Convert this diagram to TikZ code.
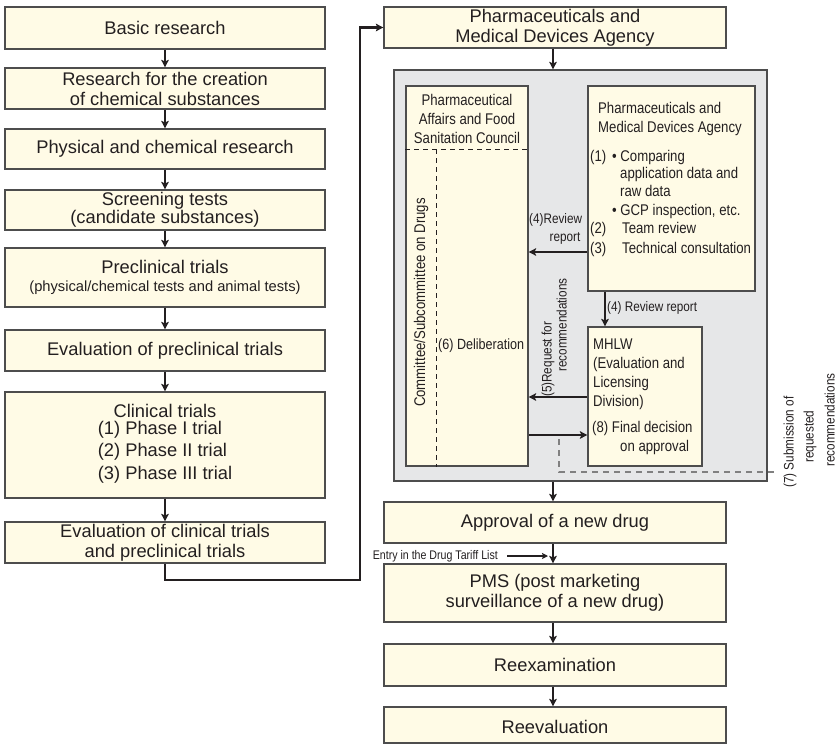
\documentclass[tikz,border=0pt]{standalone}
\usepackage{fontspec}
\setmainfont{Liberation Sans}
\newfontfamily\nar[FakeStretch=0.85]{Liberation Sans}
\usetikzlibrary{arrows.meta,calc}
\definecolor{ink}{HTML}{231F20}
\definecolor{cream}{HTML}{FFFBE6}
\definecolor{panel}{HTML}{E6E7E8}
\definecolor{edge}{HTML}{4D4D4D}
\definecolor{dashgray}{HTML}{808080}
\begin{document}
\begin{tikzpicture}[x=1pt,y=-1pt,text=ink,
  mainbox/.style={draw=edge, line width=1.2pt, fill=cream, inner sep=0pt, align=center,
    font=\fontsize{18.3}{20}\selectfont},
  innerbox/.style={draw=edge, line width=1.2pt, fill=cream, inner sep=0pt},
  arr/.style={-{Stealth[length=7.5pt,width=7.5pt,inset=1.5pt]}, line width=1.8pt, draw=ink},
  arrthin/.style={-{Stealth[length=6pt,width=6pt,inset=1.2pt]}, line width=1.5pt, draw=ink},
  lbl/.style={inner sep=0pt, anchor=west, text height=11pt, text depth=3pt,
    font=\nar\fontsize{15.5}{18.5}\selectfont},
  lblc/.style={inner sep=0pt, align=center, font=\nar\fontsize{15.5}{19}\selectfont},
  small/.style={inner sep=0pt, text height=10pt, text depth=3pt,
    font=\nar\fontsize{13.8}{16}\selectfont},
  tiny/.style={inner sep=0pt, font=\nar\fontsize{12.5}{14}\selectfont}]
\useasboundingbox (0,0) rectangle (838,744);

% ---------------- left column ----------------
\node[mainbox, minimum width=320pt, minimum height=42pt] (b1) at (165,28) {Basic research};
\node[mainbox, minimum width=320pt, minimum height=41pt] (b2) at (165,88.5) {Research for the creation\\of chemical substances};
\node[mainbox, minimum width=320pt, minimum height=40pt] (b3) at (165,149) {Physical and chemical research};
\node[mainbox, minimum width=320pt, minimum height=40pt] (b4) at (165,210) {\raisebox{-3pt}{\begin{tabular}{@{}c@{}}Screening tests\\[-2pt](candidate substances)\end{tabular}}};
\node[mainbox, minimum width=320pt, minimum height=59pt] (b5) at (165,277.5)
  {Preclinical trials\\[-2pt]{\fontsize{14.7}{16}\selectfont (physical/chemical tests and animal tests)}};
\node[mainbox, minimum width=320pt, minimum height=41pt] (b6) at (165,350.5) {Evaluation of preclinical trials};
\node[mainbox, minimum width=320pt, minimum height=106pt,
  font=\fontsize{18.3}{22.5}\selectfont] (b7) at (165,445)
  {Clinical trials\\\begin{tabular}{@{}l@{}}(1) Phase I trial\\(2) Phase II trial\\(3) Phase III trial\end{tabular}};
\node[mainbox, minimum width=320pt, minimum height=41pt] (b8) at (165,542.5) {Evaluation of clinical trials\\and preclinical trials};

\draw[arr] (b1.south) -- (b2.north);
\draw[arr] (b2.south) -- (b3.north);
\draw[arr] (b3.south) -- (b4.north);
\draw[arr] (b4.south) -- (b5.north);
\draw[arr] (b5.south) -- (b6.north);
\draw[arr] (b6.south) -- (b7.north);
\draw[arr] (b7.south) -- (b8.north);

% ---------------- right column ----------------
\node[mainbox, minimum width=342pt, minimum height=41pt] (pmda) at (555,27.5) {Pharmaceuticals and\\Medical Devices Agency};

\coordinate (turn) at (360,580);
\draw[arr, line width=2.2pt] (b8.south) |- (turn) |- (pmda.west);

\node[draw=edge, line width=1.2pt, fill=panel, minimum width=373pt, minimum height=411pt, inner sep=0pt] (panel) at (580.5,275.5) {};
\draw[arr] (553,0 |- pmda.south) -- (553,0 |- panel.north);

% council
\node[innerbox, minimum width=122pt, minimum height=380pt] (council) at (467,276) {};
\node[lblc] (ctitle) at (467,119) {Pharmaceutical\\Affairs and Food\\Sanitation Council};
\draw[ink, line width=1pt, dash pattern=on 5pt off 4pt] (council.west |- 0,149) -- (council.east |- 0,149);
\draw[ink, line width=1pt, dash pattern=on 5pt off 4pt] (436,149) -- (436,0 |- council.south);
\node[lblc, rotate=90] (cdrugs) at (421,302.5) {Committee/Subcommittee on Drugs};
\node[inner sep=0pt, anchor=west, font=\nar\fontsize{14.8}{17}\selectfont] (delib) at (438,346) {(6) Deliberation};

% PMDA inner
\node[innerbox, minimum width=167pt, minimum height=205pt] (pmdai) at (671.5,188.5) {};
\node[lbl] (p1) at (598,109) {Pharmaceuticals and};
\node[lbl] (p2) at (598,128) {Medical Devices Agency};
\node[lbl] (p3) at (590,157) {(1)};
\node[lbl] (p3b) at (612,157) {• Comparing};
\node[lbl] (p4) at (620,174) {application data and};
\node[lbl] (p5) at (620,192) {raw data};
\node[lbl] (p6) at (612,211) {• GCP inspection, etc.};
\node[lbl] (p7) at (590,229) {(2)};
\node[lbl] (p7b) at (622,229) {Team review};
\node[lbl] (p8) at (590,249) {(3)};
\node[lbl] (p8b) at (622,249) {Technical consultation};

% MHLW
\node[innerbox, minimum width=114pt, minimum height=139pt] (mhlw) at (645,396.5) {};
\node[lbl] (m1) at (593,345) {MHLW};
\node[lbl] (m2) at (593,364) {(Evaluation and};
\node[lbl] (m3) at (593,383) {Licensing};
\node[lbl] (m4) at (593,402) {Division)};
\node[lbl] (m5) at (592,428) {(8) Final decision};
\node[lbl] (m6) at (620,447) {on approval};

% arrows inside panel
\draw[arr] (pmdai.west |- 0,252) -- (council.east |- 0,252);
\node[small, anchor=west] (r4a) at (529,220) {(4)Review};
\node[small] (r4b) at (565,238) {report};
\draw[arr] (605,0 |- pmdai.south) -- (605,0 |- mhlw.north);
\node[small, anchor=west] (r4c) at (607,308) {(4) Review report};
\draw[arr] (mhlw.west |- 0,397) -- (council.east |- 0,397);
\node[small, rotate=90, anchor=west] (r5a) at (548,397) {(5)Request for};
\node[small, rotate=90, anchor=west] (r5b) at (563,372) {recommendations};
\draw[arr] (council.east |- 0,435) -- (mhlw.west |- 0,435);

% dashed submission line
\coordinate (d1) at (559,439);
\coordinate (d2) at (559,472);
\coordinate (d3) at (778,472);
\draw[dashgray, line width=1.2pt, dash pattern=on 6pt off 5pt] (d1) -- (d2) -- (d3);
\node[small, rotate=90, anchor=west] (s1) at (790,488) {(7) Submission of};
\node[small, rotate=90, anchor=west] (s2) at (810,463) {requested};
\node[small, rotate=90, anchor=west] (s3) at (831,467) {recommendations};

% lower right column
\node[mainbox, minimum width=342pt, minimum height=41pt] (appr) at (555,522.5) {Approval of a new drug};
\node[mainbox, minimum width=342pt, minimum height=58pt] (pms) at (555,593) {PMS (post marketing\\surveillance of a new drug)};
\node[mainbox, minimum width=342pt, minimum height=42pt] (reex) at (555,665) {Reexamination};
\node[mainbox, minimum width=342pt, minimum height=36pt, text depth=0pt] (reev) at (555,725) {\raisebox{-4pt}{Reevaluation}};

\draw[arr] (553,0 |- panel.south) -- (553,0 |- appr.north);
\draw[arr] (553,0 |- appr.south) -- (553,0 |- pms.north);
\draw[arr] (553,0 |- pms.south) -- (553,0 |- reex.north);
\draw[arr] (553,0 |- reex.south) -- (553,0 |- reev.north);

\node[tiny, anchor=east] (entry) at (498,556) {Entry in the Drug Tariff List};
\coordinate (etip) at (548,556);
\draw[arrthin] ([xshift=9pt]entry.east) -- (etip);
\end{tikzpicture}
\end{document}
